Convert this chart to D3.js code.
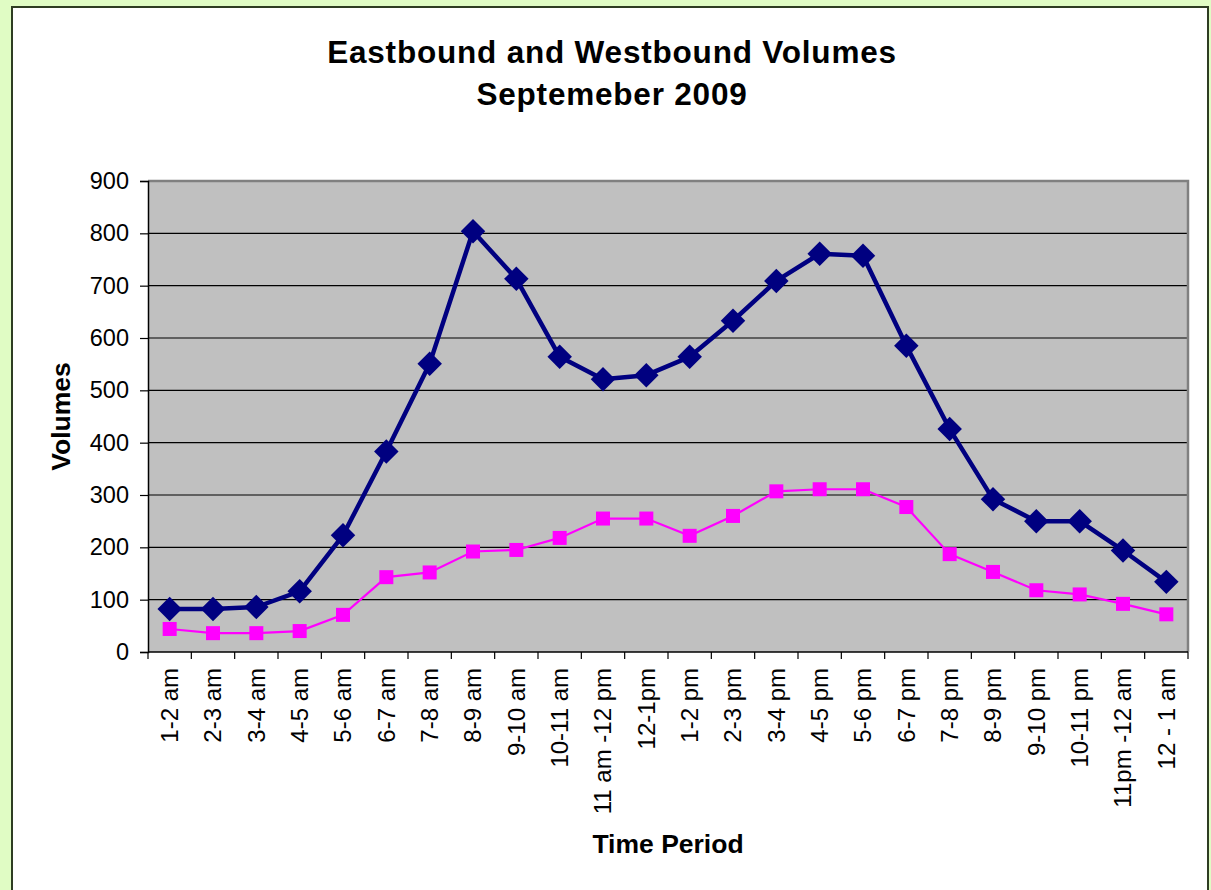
<!DOCTYPE html>
<html>
<head>
<meta charset="utf-8">
<script src="https://cdn.jsdelivr.net/npm/d3@7"></script>
<style>
  html, body { margin: 0; padding: 0; background: #e0fcc4; }
  svg { display: block; }
  text { font-family: Arial, "Liberation Sans", sans-serif; fill: #000; }
</style>
</head>
<body>
<svg id="chart" width="1211" height="890"></svg>
<script>
// Hourly time periods (x categories)
const periods = [
  "1-2 am", "2-3 am", "3-4 am", "4-5 am", "5-6 am", "6-7 am", "7-8 am",
  "8-9 am", "9-10 am", "10-11 am", "11 am -12 pm", "12-1pm", "1-2 pm",
  "2-3 pm", "3-4 pm", "4-5 pm", "5-6 pm", "6-7 pm", "7-8 pm", "8-9 pm",
  "9-10 pm", "10-11 pm", "11pm -12 am", "12 - 1 am"
];

// Eastbound hourly volumes
const eastbound = [
  82, 82, 86, 116, 223, 383, 551, 804, 713, 564, 521, 529,
  564, 633, 709, 761, 757, 585, 426, 292, 250, 250, 194, 134
];

// Westbound hourly volumes
const westbound = [
  44, 36, 36, 40, 71, 143, 152, 192, 195, 218, 255, 255,
  222, 260, 307, 311, 311, 277, 187, 153, 118, 110, 92, 72
];

// Y axis ticks
const yTicks = [0, 100, 200, 300, 400, 500, 600, 700, 800, 900];

const titleLines = ["Eastbound and Westbound Volumes", "Septemeber 2009"];

const svg = d3.select("#chart");
const W = 1211, H = 890;

// White chart panel with dark frame
svg.append("rect").attr("x", 0).attr("y", 0).attr("width", W).attr("height", H).attr("fill", "#e0fcc4");
svg.append("rect")
  .attr("x", 12).attr("y", 7).attr("width", 1196).attr("height", 900)
  .attr("fill", "#ffffff").attr("stroke", "#2e3d22").attr("stroke-width", 2);

const plot = { left: 148, top: 181, right: 1188, bottom: 652 };

const x = d3.scaleBand().domain(periods).range([plot.left, plot.right]).padding(0);
const y = d3.scaleLinear().domain([0, 900]).range([plot.bottom, plot.top]);

// Plot area
svg.append("rect")
  .attr("x", plot.left).attr("y", plot.top)
  .attr("width", plot.right - plot.left).attr("height", plot.bottom - plot.top)
  .attr("fill", "#c0c0c0");

// Gridlines
svg.append("g")
  .selectAll("line")
  .data(yTicks.filter(d => d > 0 && d < 900))
  .join("line")
  .attr("x1", plot.left).attr("x2", plot.right)
  .attr("y1", d => y(d)).attr("y2", d => y(d))
  .attr("stroke", "#000").attr("stroke-width", 1.2);

// Plot border (top and right)
svg.append("path")
  .attr("d", `M${plot.left},${plot.top}H${plot.right}V${plot.bottom}`)
  .attr("fill", "none").attr("stroke", "#808080").attr("stroke-width", 2.5);

// Y axis
const yAxis = d3.axisLeft(y).tickValues(yTicks).tickSize(8).tickPadding(11).tickFormat(d3.format("d"));
const gy = svg.append("g").attr("transform", `translate(${plot.left},0)`).call(yAxis);
gy.select(".domain").attr("stroke", "#000").attr("stroke-width", 1.5);
gy.selectAll(".tick line").attr("stroke", "#000").attr("stroke-width", 1.2);
gy.selectAll(".tick text").attr("font-size", 23.5).attr("font-family", "Arial, 'Liberation Sans', sans-serif").attr("fill", "#000");

// X axis: ticks sit between categories
const boundaries = d3.range(periods.length + 1).map(i => plot.left + i * x.bandwidth());
const gx = svg.append("g");
gx.append("line")
  .attr("x1", plot.left).attr("x2", plot.right)
  .attr("y1", plot.bottom).attr("y2", plot.bottom)
  .attr("stroke", "#000").attr("stroke-width", 1.5);
gx.selectAll("line.tk")
  .data(boundaries)
  .join("line").attr("class", "tk")
  .attr("x1", d => d).attr("x2", d => d)
  .attr("y1", plot.bottom).attr("y2", plot.bottom + 7)
  .attr("stroke", "#000").attr("stroke-width", 1.2);
gx.selectAll("text")
  .data(periods)
  .join("text")
  .attr("transform", d => `translate(${x(d) + x.bandwidth() / 2},${plot.bottom + 16}) rotate(-90)`)
  .attr("text-anchor", "end")
  .attr("dy", "0.35em")
  .attr("font-size", 24)
  .text(d => d);

// Lines
const line = d3.line()
  .x((d, i) => x(periods[i]) + x.bandwidth() / 2)
  .y(d => y(d));

svg.append("path")
  .datum(westbound)
  .attr("d", line)
  .attr("fill", "none").attr("stroke", "#ff00ff").attr("stroke-width", 2.2);

svg.append("g")
  .selectAll("rect")
  .data(westbound)
  .join("rect")
  .attr("x", (d, i) => x(periods[i]) + x.bandwidth() / 2 - 7)
  .attr("y", d => y(d) - 7)
  .attr("width", 14).attr("height", 14)
  .attr("fill", "#ff00ff");

svg.append("path")
  .datum(eastbound)
  .attr("d", line)
  .attr("fill", "none").attr("stroke", "#000080").attr("stroke-width", 4.5)
  .attr("stroke-linejoin", "round");

const diamond = d3.symbol().type(d3.symbolSquare).size(300);
svg.append("g")
  .selectAll("path")
  .data(eastbound)
  .join("path")
  .attr("d", diamond)
  .attr("transform", (d, i) => `translate(${x(periods[i]) + x.bandwidth() / 2},${y(d)}) rotate(45)`)
  .attr("fill", "#000080");

// Titles
svg.append("g")
  .selectAll("text")
  .data(titleLines)
  .join("text")
  .attr("x", 612)
  .attr("y", (d, i) => 63 + i * 42)
  .attr("text-anchor", "middle")
  .attr("font-size", 31.5)
  .attr("font-weight", "bold")
  .attr("letter-spacing", 0.8)
  .text(d => d);

svg.append("text")
  .attr("transform", `translate(70,${(plot.top + plot.bottom) / 2}) rotate(-90)`)
  .attr("text-anchor", "middle")
  .attr("font-size", 26.5)
  .attr("font-weight", "bold")
  .text("Volumes");

svg.append("text")
  .attr("x", (plot.left + plot.right) / 2)
  .attr("y", 853)
  .attr("text-anchor", "middle")
  .attr("font-size", 26.5)
  .attr("font-weight", "bold")
  .text("Time Period");
</script>
</body>
</html>
